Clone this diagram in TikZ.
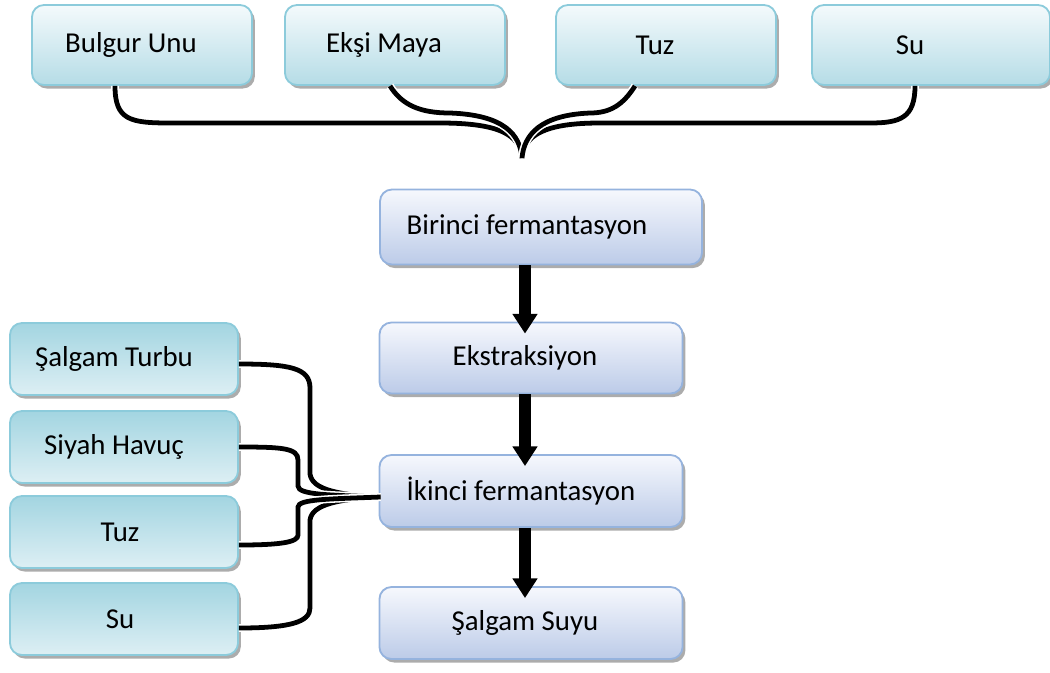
\documentclass[tikz,border=0pt]{standalone}
\usepackage{fontspec}
\setmainfont{Carlito}
\usetikzlibrary{arrows.meta,calc,shadows}

\definecolor{ingline}{HTML}{8CCBDB}
\definecolor{ingtop}{HTML}{F4FAFC}
\definecolor{ingbot}{HTML}{B5DCE6}
\definecolor{sideA}{HTML}{A3D5E1}
\definecolor{sideB}{HTML}{DDEFF4}
\definecolor{stepline}{HTML}{95B3DE}
\definecolor{steptop}{HTML}{F6F8FD}
\definecolor{stepbot}{HTML}{BCCBE8}

\tikzset{
  boxbase/.style={rounded corners=0.3cm, line width=1.3pt, inner xsep=2pt,
    font=\fontsize{20.5}{24}\selectfont,
    drop shadow={shadow xshift=2pt, shadow yshift=-2.5pt, fill=gray!65, opacity=1}},
  nudge/.style={execute at end node=\hspace*{#1}},
  topbox/.style={boxbase, draw=ingline, top color=ingtop, bottom color=ingbot,
    minimum width=5.5cm, minimum height=2cm},
  sidebox/.style={boxbase, draw=ingline, top color=sideA, bottom color=sideB,
    minimum width=5.7cm, minimum height=1.8cm},
  stepbox/.style={boxbase, draw=stepline, top color=steptop, bottom color=stepbot,
    minimum width=7.575cm, minimum height=1.8cm},
  brace/.style={line width=3.4pt, black, preaction={draw=white, line width=5.6pt}},
  bigarrow/.style={line width=8.5pt, -{Triangle[width=17pt,length=14pt]}}
}

\begin{document}
\begin{tikzpicture}[x=0.025cm, y=-0.025cm]
    \useasboundingbox (0,0) rectangle (1050,672);

    \node[topbox, nudge=0.55cm] (bulgur) at (142,45) {Bulgur Unu};
    \node[topbox, nudge=0.55cm] (maya)   at (395,45) {Ekşi Maya};
    \node[topbox, nudge=0.55cm] (tuzA)   at (666,45) {Tuz};
    \node[topbox, minimum width=5.95cm, nudge=1.05cm] (suA) at (931,45) {Su};

    \node[stepbox, minimum width=8.05cm, minimum height=1.875cm, nudge=0.7cm] (birinci) at (541,227) {Birinci fermantasyon};
    \node[stepbox, minimum height=1.775cm, nudge=0.3cm] (ekstr)  at (531,358) {Ekstraksiyon};
    \node[stepbox, minimum height=1.8cm, nudge=0.5cm] (ikinci) at (531,491) {İkinci fermantasyon};
    \node[stepbox, nudge=0.3cm] (suyu)   at (531,623) {Şalgam Suyu};

    \node[sidebox, nudge=0.5cm] (turbu)  at (124,359) {Şalgam Turbu};
    \node[sidebox, nudge=0.5cm] (havuc)  at (124,447) {Siyah Havuç};
    \node[sidebox, nudge=0.2cm] (tuzB)   at (124,532) {Tuz};
    \node[sidebox, nudge=0.2cm] (suB)    at (124,619) {Su};

    \coordinate (toptip) at (522,158);
    \coordinate (lefttip) at ($(ikinci.west)+(2,6)$);

    \draw[brace] ($(bulgur.south)+(-27,0)$) .. controls (115,120) and (130,123) .. (170,123)
        -- (440,123) .. controls (500,123) and (520,135) .. (toptip);
    \draw[brace] ($(suA.south)+(-16,0)$) .. controls (915,118) and (900,123) .. (870,123)
        -- (600,123) .. controls (545,123) and (524,135) .. (toptip);
    \draw[brace] ($(maya.south)+(-5,0)$) .. controls (402,105) and (420,113) .. (450,113)
        .. controls (505,115) and (520,135) .. (toptip);
    \draw[brace] ($(tuzA.south)+(-31,0)$) .. controls (623,105) and (610,113) .. (590,113)
        .. controls (540,115) and (524,135) .. (toptip);

    \draw[brace] ($(turbu.east)+(0,5)$) .. controls (290,364) and (310,368) .. (310,388)
        -- (310,474) .. controls (312,490) and (340,495) .. (lefttip);
    \draw[brace] ($(suB.east)+(0,9)$) .. controls (290,628) and (310,622) .. (310,608)
        -- (310,520) .. controls (312,504) and (340,499) .. (lefttip);
    \draw[brace] ($(havuc.east)+(0,0)$) .. controls (282,447) and (298,448) .. (298,460)
        -- (298,486) .. controls (298,495) and (330,495) .. (lefttip);
    \draw[brace] ($(tuzB.east)+(0,13)$) .. controls (282,545) and (298,542) .. (298,535)
        -- (298,507) .. controls (298,499) and (330,499) .. (lefttip);

    \draw[bigarrow] ($(birinci.south)+(-16,0)$) -- ($(ekstr.north)+(-6,12)$);
    \draw[bigarrow] ($(ekstr.south)+(-6,0)$) -- ($(ikinci.north)+(-6,12)$);
    \draw[bigarrow] ($(ikinci.south)+(-6,0)$) -- ($(suyu.north)+(-6,12)$);
\end{tikzpicture}
\end{document}
